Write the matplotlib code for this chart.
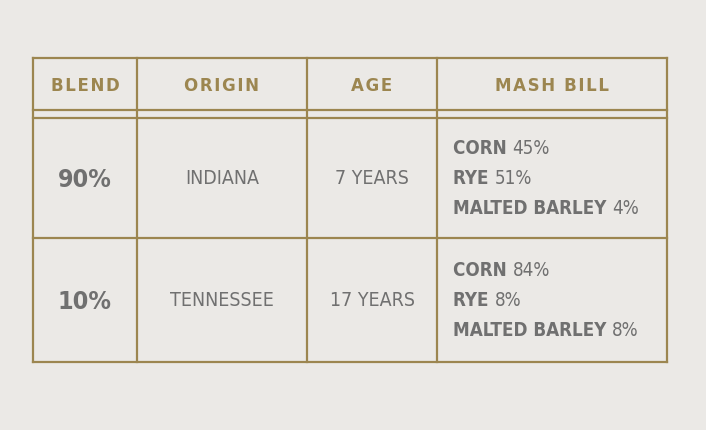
import matplotlib.pyplot as plt

# Table data
headers = ["BLEND", "ORIGIN", "AGE", "MASH BILL"]
blends = ["90%", "10%"]
origins = ["INDIANA", "TENNESSEE"]
ages = ["7 YEARS", "17 YEARS"]
grains = ["CORN", "RYE", "MALTED BARLEY"]
mash_pcts = [["45%", "51%", "4%"], ["84%", "8%", "8%"]]

bg = '#ebe9e6'
gold = '#9c8650'
gray = '#707070'
narrow = ['DejaVu Sans']

fig = plt.figure(figsize=(7.06, 4.30), dpi=100)
fig.patch.set_facecolor(bg)
ax = fig.add_axes([0, 0, 1, 1])
ax.set_xlim(0, 706)
ax.set_ylim(430, 0)
ax.axis('off')
ax.set_facecolor(bg)

# grid lines (pixel coords)
xs = [33, 137, 307, 437, 667]
top, h1, h2, mid, bot = 58, 110, 118, 238, 362
lw = 1.6
for y in [top, h1, h2, mid, bot]:
    ax.plot([xs[0], xs[-1]], [y, y], color=gold, lw=lw)
for x in xs:
    ax.plot([x, x], [top, bot], color=gold, lw=lw)

# header
centers = [(xs[i] + xs[i + 1]) / 2 for i in range(4)]
for cx, htext in zip(centers, headers):
    ax.text(cx, 86, "\u200a".join(htext), color=gold, fontsize=12,
            fontweight='bold', ha='center', va='center', family=['DejaVu Sans'])

rows_c = [(h2 + mid) / 2, (mid + bot) / 2]
for i, cy in enumerate(rows_c):
    ax.text(centers[0], cy + 2, blends[i], color=gray, fontsize=18, fontweight='bold',
            ha='center', va='center', family=narrow, fontstretch='condensed')
    ax.text(centers[1], cy, origins[i], color=gray, fontsize=14,
            ha='center', va='center', family=narrow, fontstretch='condensed')
    ax.text(centers[2], cy, ages[i], color=gray, fontsize=14,
            ha='center', va='center', family=narrow, fontstretch='condensed')
    for j, (g, p) in enumerate(zip(grains, mash_pcts[i])):
        yy = cy - 30 + j * 30
        t = ax.text(453, yy, g + " ", color=gray, fontsize=13.5, fontweight='bold',
                    ha='left', va='center', family=narrow, fontstretch='condensed')
        ax.annotate(p, xycoords=t, xy=(1, 0.5), color=gray, fontsize=13.5,
                    ha='left', va='center', family=narrow, fontstretch='condensed')

fig.savefig('out.png', dpi=100, facecolor=bg)
